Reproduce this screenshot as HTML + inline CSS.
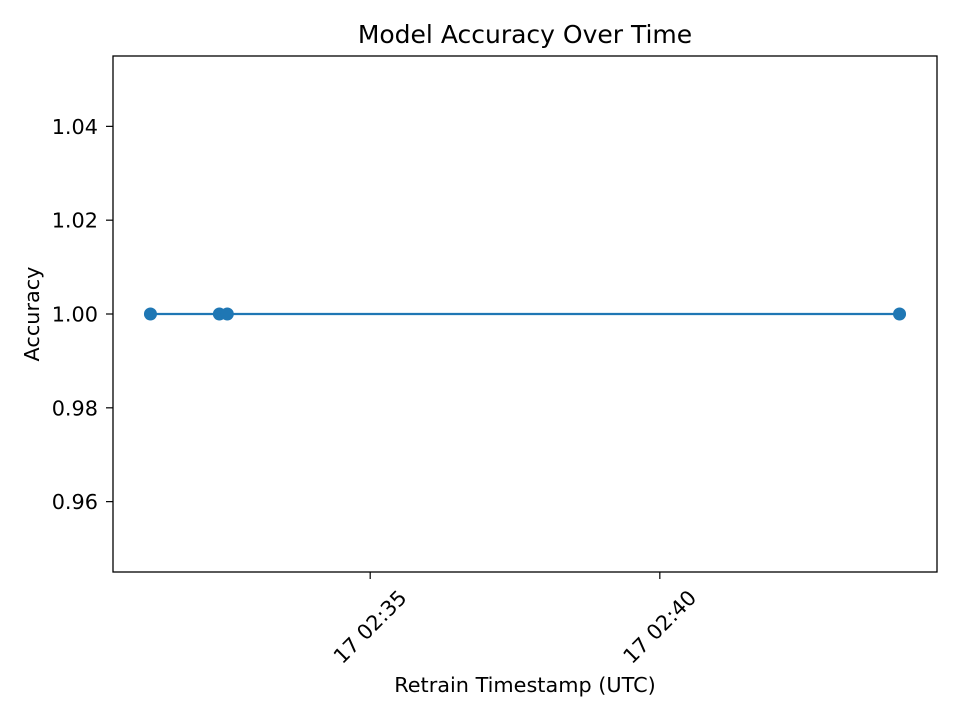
<!DOCTYPE html>
<html><head><meta charset="utf-8"><style>
body{margin:0;background:#fff}
svg{display:block;font-family:"DejaVu Sans","Liberation Sans",sans-serif}
</style></head><body>
<svg id="chart" width="960" height="720">
<rect x="0" y="0" width="960" height="720" fill="#fff"/>
<text x="525" y="43" text-anchor="middle" font-size="25" fill="#000">Model Accuracy Over Time</text>
<g id="plot"></g>
<rect x="113" y="56" width="824" height="516" fill="none" stroke="#000" stroke-width="1.3"/>
<text x="525" y="692" text-anchor="middle" font-size="20.8" fill="#000">Retrain Timestamp (UTC)</text>
<text transform="translate(39,314) rotate(-90)" text-anchor="middle" font-size="20.8" fill="#000">Accuracy</text>
</svg>
<script>
// time in seconds after 02:00:00 on day 17
const timestamps = [1872.4, 1943.8, 1952, 2648.3];
const accuracy = [1.0, 1.0, 1.0, 1.0];
const yTicks = [0.96, 0.98, 1.00, 1.02, 1.04];
const yTickLabels = ["0.96", "0.98", "1.00", "1.02", "1.04"];
const xTicks = [2100, 2400];
const xTickLabels = ["17 02:35", "17 02:40"];

const L=113,R=937,T=56,B=572;
const tmin=Math.min(...timestamps),tmax=Math.max(...timestamps),pad=(tmax-tmin)*0.05||60;
const x0=tmin-pad,x1=tmax+pad;
const y0=0.945,y1=1.055;
const xs=t=>L+(t-x0)/(x1-x0)*(R-L);
const ys=v=>B-(v-y0)/(y1-y0)*(B-T);
const NS="http://www.w3.org/2000/svg";
const g=document.getElementById('plot');
function mk(tag,a){const e=document.createElementNS(NS,tag);for(const k in a)e.setAttribute(k,a[k]);g.appendChild(e);return e;}
yTicks.forEach((v,i)=>{
  const y=ys(v);
  const tk=mk('line',{x1:L-7,x2:L,y1:y,y2:y,stroke:'#000','stroke-width':1.2});
  
  
  const t=mk('text',{x:L-15,y:y+7.5,'text-anchor':'end','font-size':20.8,fill:'#000'});
  t.textContent=yTickLabels[i];
  
  
});
xTicks.forEach((v,i)=>{
  const x=xs(v);
  const tk=mk('line',{x1:x,x2:x,y1:B,y2:B+7,stroke:'#000','stroke-width':1.2});
  
  
  const t=mk('text',{transform:`translate(${x},${B+55}) rotate(-45)`,'text-anchor':'middle','dominant-baseline':'central','font-size':20.8,fill:'#000'});
  t.textContent=xTickLabels[i];
  
  
});
const pts=timestamps.map((t,i)=>xs(t)+','+ys(accuracy[i])).join(' ');
const line=mk('polyline',{points:pts,fill:'none',stroke:'#1f77b4','stroke-width':2.2});


timestamps.forEach((t,i)=>{
  const c=mk('circle',{cx:xs(t),cy:ys(accuracy[i]),r:6.5,fill:'#1f77b4'});
  
  
});
</script>
</body></html>
